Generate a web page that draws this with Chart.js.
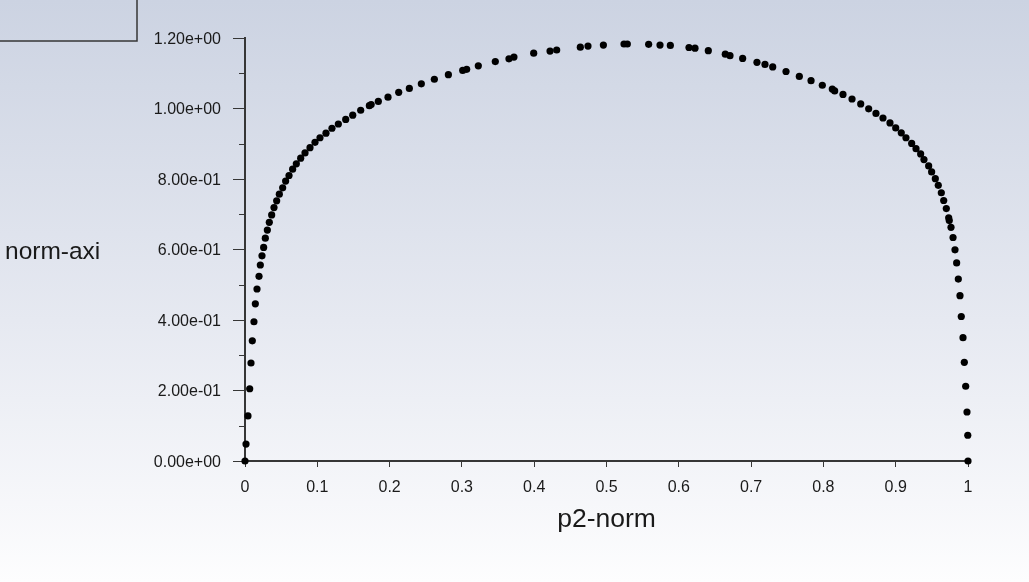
<!DOCTYPE html>
<html>
<head>
<meta charset="utf-8">
<title>norm-axi vs p2-norm</title>
<script src="https://cdn.jsdelivr.net/npm/chart.js@4.4.1/dist/chart.umd.min.js"></script>
<style>
    html, body { margin: 0; padding: 0; }
    body { width: 1029px; height: 582px; overflow: hidden; }
    #wrap {
        position: relative;
        width: 1029px;
        height: 582px;
        background: linear-gradient(to bottom, #ccd3e2 0%, #e6e9f1 55%, #fdfdfe 100%);
    }
</style>
</head>
<body>
<div id="wrap"><canvas id="profile-chart"></canvas></div>
<script>
// values
const p2Norm = [
    0, 0.0014, 0.0041, 0.0065, 0.0083, 0.0101, 0.0124, 0.0143, 0.0166, 0.0194,
    0.0212, 0.0235, 0.0258, 0.0281, 0.0309, 0.0336, 0.0369, 0.0401, 0.0438, 0.0475,
    0.0521, 0.0562, 0.0609, 0.0659, 0.0710, 0.0770, 0.0830, 0.0899, 0.0968, 0.1037,
    0.1120, 0.1203, 0.1291, 0.1393, 0.1490, 0.1600, 0.1720, 0.1745, 0.1844, 0.1978,
    0.2126, 0.2273, 0.2439, 0.2619, 0.2813, 0.3011, 0.3066, 0.3227, 0.3462, 0.3651,
    0.3720, 0.3993, 0.4219, 0.4311, 0.4638, 0.4744, 0.4957, 0.5242, 0.5288, 0.5583,
    0.5740, 0.5883, 0.6141, 0.6224, 0.6408, 0.6643, 0.6708, 0.6883, 0.7081, 0.7192,
    0.7299, 0.7483, 0.7667, 0.7829, 0.7985, 0.8123, 0.8156, 0.8271, 0.8396, 0.8516,
    0.8626, 0.8727, 0.8824, 0.8921, 0.9000, 0.9077, 0.9142, 0.9221, 0.9281, 0.9345,
    0.9391, 0.9456, 0.9497, 0.9548, 0.9589, 0.9631, 0.9664, 0.9700, 0.9733, 0.9741,
    0.9765, 0.9793, 0.9820, 0.9843, 0.9866, 0.9889, 0.9907, 0.9931, 0.9949, 0.9968,
    0.9986, 0.9997, 1.0
];
const normAxi = [
    0, 0.048, 0.128, 0.205, 0.278, 0.341, 0.395, 0.446, 0.488, 0.524,
    0.556, 0.582, 0.606, 0.632, 0.655, 0.677, 0.698, 0.719, 0.738, 0.757,
    0.775, 0.794, 0.810, 0.828, 0.843, 0.859, 0.874, 0.889, 0.904, 0.917,
    0.930, 0.944, 0.956, 0.969, 0.981, 0.995, 1.008, 1.011, 1.020, 1.032,
    1.046, 1.057, 1.070, 1.083, 1.096, 1.108, 1.111, 1.121, 1.133, 1.141,
    1.146, 1.157, 1.163, 1.166, 1.174, 1.177, 1.180, 1.183, 1.183, 1.182,
    1.180, 1.179, 1.173, 1.171, 1.164, 1.154, 1.150, 1.142, 1.131, 1.125,
    1.118, 1.105, 1.091, 1.079, 1.066, 1.055, 1.050, 1.040, 1.027, 1.013,
    0.999, 0.986, 0.973, 0.959, 0.945, 0.931, 0.917, 0.901, 0.886, 0.871,
    0.855, 0.837, 0.820, 0.801, 0.782, 0.761, 0.739, 0.716, 0.690, 0.682,
    0.663, 0.634, 0.599, 0.562, 0.516, 0.469, 0.410, 0.350, 0.280, 0.212,
    0.139, 0.073, 0
];
const xTitle = 'p2-norm';
const yTitle = 'norm-axi';
const xRange = [0, 1];
const yRange = [0, 1.2];

const axisColor = '#363636';
const textColor = '#1a1a1a';

Chart.defaults.font.family = "'Liberation Sans', Arial, sans-serif";
Chart.defaults.color = textColor;

// 1.2 -> "1.20e+00"
const sciLabel = (v) => {
    const [m, e] = Number(v).toExponential(2).split('e');
    const sign = e[0] === '-' ? '-' : '+';
    const digits = e.replace(/[+-]/, '').padStart(2, '0');
    return `${m}e${sign}${digits}`;
};

// frame pieces the scales don't do: minor y ticks, flat y title, empty legend box
const fluentFrame = {
    id: 'fluentFrame',
    afterDraw(chart) {
        const { ctx, chartArea, scales } = chart;
        const y = scales.y;
        ctx.save();
        ctx.strokeStyle = axisColor;
        ctx.lineWidth = 1;
        for (let i = 0; i < y.ticks.length - 1; i++) {
            const mid = (y.ticks[i].value + y.ticks[i + 1].value) / 2;
            const py = Math.round(y.getPixelForValue(mid)) + 0.5;
            ctx.beginPath();
            ctx.moveTo(chartArea.left - 6, py);
            ctx.lineTo(chartArea.left, py);
            ctx.stroke();
        }

        ctx.fillStyle = textColor;
        ctx.font = "24.5px 'Liberation Sans', Arial, sans-serif";
        ctx.textBaseline = 'alphabetic';
        ctx.textAlign = 'left';
        ctx.fillText(yTitle, 5, 259);

        ctx.lineWidth = 1.5;
        ctx.strokeRect(-2, -2, 139, 43);
        ctx.restore();
    }
};

const ctx = document.getElementById('profile-chart').getContext('2d');
const chart = new Chart(ctx, {
    type: 'scatter',
    data: {
        datasets: [{
            data: p2Norm.map((x, i) => ({ x: x, y: normAxi[i] })),
            backgroundColor: '#000',
            borderWidth: 0,
            pointRadius: 3.6,
            pointHoverRadius: 3.6,
            clip: false
        }]
    },
    options: {
        responsive: true,
        maintainAspectRatio: false,
        animation: false,
        events: [],
        layout: { padding: { top: 38, right: 61, left: 0, bottom: 0 } },
        plugins: {
            legend: { display: false },
            tooltip: { enabled: false }
        },
        scales: {
            x: {
                type: 'linear',
                min: xRange[0],
                max: xRange[1],
                afterFit: (scale) => { scale.height = 121; },
                border: { color: axisColor, width: 2 },
                grid: {
                    drawOnChartArea: false,
                    drawTicks: true,
                    tickLength: 6,
                    tickColor: axisColor
                },
                ticks: {
                    stepSize: 0.1,
                    padding: 11,
                    font: { size: 16 },
                    maxRotation: 0,
                    callback: (v) => String(+Number(v).toFixed(1))
                },
                title: {
                    display: true,
                    text: xTitle,
                    font: { size: 26.5 },
                    padding: { top: 0, bottom: 46 }
                }
            },
            y: {
                type: 'linear',
                min: yRange[0],
                max: yRange[1],
                afterFit: (scale) => { scale.width = 245; },
                border: { color: axisColor, width: 2 },
                grid: {
                    drawOnChartArea: false,
                    drawTicks: true,
                    tickLength: 12,
                    tickColor: axisColor
                },
                ticks: {
                    stepSize: 0.2,
                    padding: 12,
                    labelOffset: 1.5,
                    font: { size: 16 },
                    callback: (v) => sciLabel(v)
                }
            }
        }
    },
    plugins: [fluentFrame]
});
</script>
</body>
</html>
